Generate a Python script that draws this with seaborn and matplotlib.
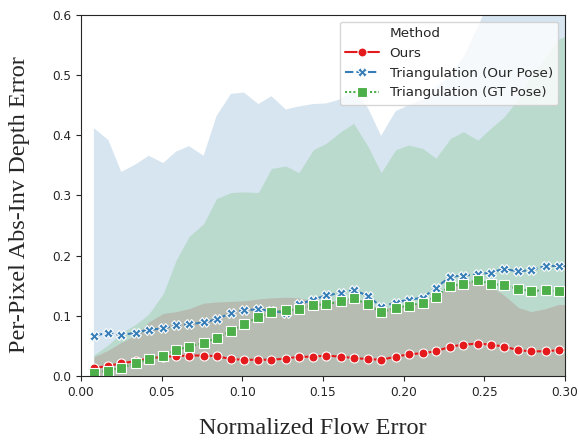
import numpy as np
import pandas as pd
import matplotlib
matplotlib.use("Agg")
import matplotlib.pyplot as plt
from matplotlib.lines import Line2D
import seaborn as sns

# ----------------------------------------------------------------
# Data (one value per flow-error bin)
# ----------------------------------------------------------------
flow_error = [0.008, 0.017, 0.025, 0.034, 0.042, 0.051, 0.059, 0.067, 0.076,
              0.084, 0.093, 0.101, 0.110, 0.118, 0.127, 0.135, 0.144, 0.152,
              0.161, 0.169, 0.178, 0.186, 0.195, 0.203, 0.212, 0.220, 0.229,
              0.237, 0.246, 0.254, 0.262, 0.271, 0.279, 0.288, 0.296, 0.305]

methods = ["Ours", "Triangulation (Our Pose)", "Triangulation (GT Pose)"]

ours_mean = [0.013, 0.017, 0.021, 0.025, 0.029, 0.032, 0.033, 0.034, 0.034,
             0.033, 0.028, 0.027, 0.027, 0.027, 0.029, 0.032, 0.032, 0.034,
             0.032, 0.030, 0.028, 0.027, 0.032, 0.036, 0.038, 0.041, 0.049,
             0.052, 0.054, 0.052, 0.049, 0.043, 0.041, 0.041, 0.043, 0.043]
ours_upper = [0.032, 0.043, 0.056, 0.068, 0.090, 0.104, 0.107, 0.112, 0.121,
              0.123, 0.124, 0.125, 0.128, 0.130, 0.131, 0.130, 0.125, 0.124,
              0.126, 0.127, 0.120, 0.112, 0.115, 0.118, 0.122, 0.133, 0.150,
              0.157, 0.157, 0.149, 0.135, 0.114, 0.107, 0.112, 0.119, 0.118]

ourpose_mean = [0.067, 0.072, 0.068, 0.072, 0.077, 0.079, 0.085, 0.086, 0.089,
                0.094, 0.105, 0.109, 0.111, 0.108, 0.105, 0.119, 0.127, 0.134,
                0.138, 0.143, 0.133, 0.115, 0.122, 0.127, 0.130, 0.147, 0.165,
                0.167, 0.169, 0.172, 0.178, 0.174, 0.176, 0.183, 0.183, 0.183]
ourpose_upper = [0.412, 0.392, 0.339, 0.352, 0.366, 0.354, 0.373, 0.382, 0.366,
                 0.432, 0.469, 0.471, 0.452, 0.465, 0.443, 0.448, 0.452, 0.453,
                 0.460, 0.475, 0.445, 0.399, 0.440, 0.450, 0.460, 0.480, 0.500,
                 0.530, 0.580, 0.630, 0.660, 0.680, 0.700, 0.720, 0.740, 0.750]

gtpose_mean = [0.005, 0.009, 0.014, 0.021, 0.028, 0.034, 0.043, 0.049, 0.055,
               0.063, 0.075, 0.086, 0.098, 0.106, 0.109, 0.111, 0.118, 0.119,
               0.124, 0.129, 0.119, 0.106, 0.113, 0.117, 0.122, 0.132, 0.150,
               0.153, 0.159, 0.153, 0.151, 0.145, 0.141, 0.143, 0.141, 0.141]
gtpose_upper = [0.035, 0.052, 0.072, 0.086, 0.103, 0.137, 0.193, 0.232, 0.253,
                0.295, 0.305, 0.306, 0.305, 0.345, 0.349, 0.338, 0.376, 0.387,
                0.406, 0.420, 0.381, 0.338, 0.376, 0.384, 0.378, 0.362, 0.395,
                0.406, 0.392, 0.412, 0.430, 0.460, 0.500, 0.530, 0.560, 0.570]

lower_bound = [0.0] * len(flow_error)   # bands are clipped at zero

means = [ours_mean, ourpose_mean, gtpose_mean]
uppers = [ours_upper, ourpose_upper, gtpose_upper]

df = pd.DataFrame({
    "flow": flow_error * 3,
    "err": ours_mean + ourpose_mean + gtpose_mean,
    "Method": [m for m in methods for _ in flow_error],
})

# ----------------------------------------------------------------
# Plot
# ----------------------------------------------------------------
sns.set_style("ticks")
plt.rcParams["font.family"] = ["DejaVu Sans"]

colors = sns.color_palette("Set1", 3)
palette = dict(zip(methods, colors))

fig = plt.figure(figsize=(5.79, 4.42), dpi=100)
ax = fig.add_axes([81 / 579, 1 - 376 / 442, 484 / 579, 361 / 442])

# error bands, drawn in hue order like seaborn does
for m, up in zip(methods, uppers):
    ax.fill_between(flow_error, lower_bound, up, color=palette[m],
                    alpha=0.2, linewidth=0)

sns.lineplot(data=df, x="flow", y="err", hue="Method", style="Method",
             hue_order=methods, style_order=methods, palette=palette,
             markers={methods[0]: "o", methods[1]: "X", methods[2]: "s"},
             dashes={methods[0]: "", methods[1]: (4, 1.5), methods[2]: (1, 1)},
             markersize=6.5, markeredgecolor="white", markeredgewidth=0.8,
             linewidth=1.5, errorbar=None, ax=ax)

ax.set_xlim(0, 0.30)
ax.set_ylim(0, 0.6)
ax.set_xticks([0.0, 0.05, 0.10, 0.15, 0.20, 0.25, 0.30])
ax.set_yticks([0.0, 0.1, 0.2, 0.3, 0.4, 0.5, 0.6])
ax.tick_params(labelsize=8.7)
for s in ax.spines.values():
    s.set_visible(True)

ax.set_xlabel("Normalized Flow Error", family="Liberation Serif", fontsize=17.5)
ax.set_ylabel("Per-Pixel Abs-Inv Depth Error", family="Liberation Serif",
              fontsize=17.5)
ax.xaxis.set_label_coords(0.479, -0.115)
ax.yaxis.set_label_coords(-0.105, 0.476)

# old-style seaborn legend: title shown as a blank entry
handles, labels = ax.get_legend_handles_labels()
blank = Line2D([], [], linestyle="none", marker=None)
ax.legend([blank] + handles, ["Method"] + labels, loc="upper right",
          fontsize=9.7, frameon=True, handlelength=2.5)

fig.savefig("out.png", dpi=100)
